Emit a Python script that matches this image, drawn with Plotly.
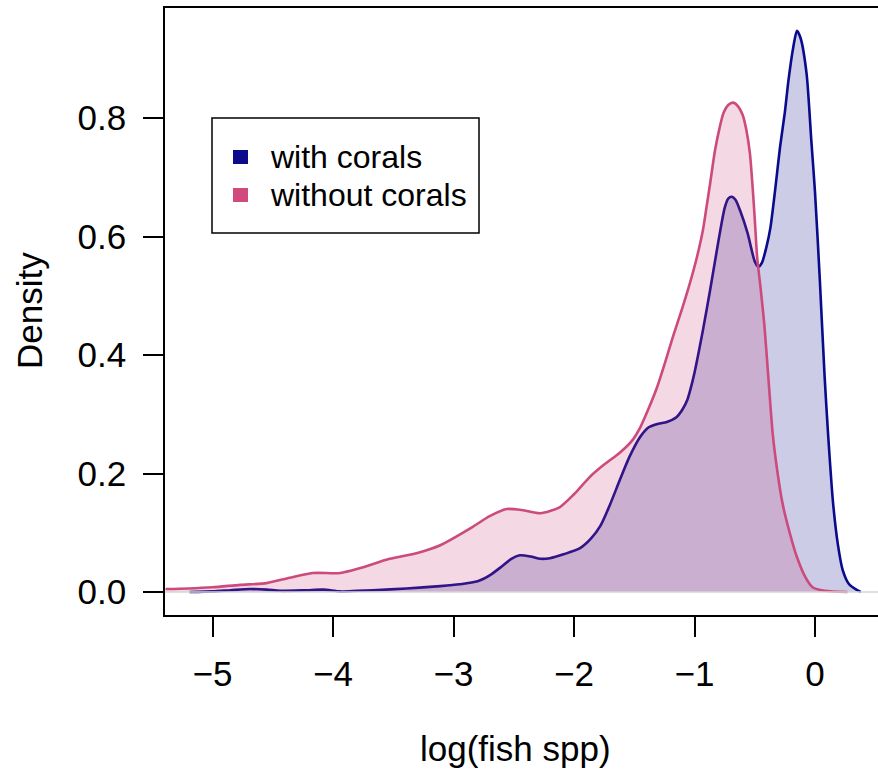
import plotly.graph_objects as go

# ---- data ----
series_names = ["with corals", "without corals"]

with_x = [-5.19, -5.00, -4.85, -4.69, -4.55, -4.44, -4.22, -4.08, -3.94, -3.80, -3.67, -3.39,
          -3.11, -2.95, -2.80, -2.70, -2.60, -2.52, -2.45, -2.36, -2.28, -2.20, -2.08, -1.95,
          -1.86, -1.78, -1.70, -1.62, -1.54, -1.45, -1.38, -1.30, -1.23, -1.15, -1.10, -1.06,
          -1.03, -1.00, -0.96, -0.93, -0.87, -0.80, -0.75, -0.72, -0.69, -0.66, -0.62, -0.56,
          -0.50, -0.47, -0.44, -0.40, -0.37, -0.33, -0.29, -0.25, -0.22, -0.18, -0.15, -0.12,
          -0.07, -0.03, 0.00, 0.04, 0.08, 0.11, 0.15, 0.19, 0.23, 0.28, 0.35, 0.38]
with_y = [0.000, 0.001, 0.003, 0.005, 0.004, 0.002, 0.003, 0.004, 0.001, 0.002, 0.003, 0.006,
          0.010, 0.013, 0.018, 0.028, 0.043, 0.056, 0.062, 0.060, 0.056, 0.057, 0.064, 0.074,
          0.090, 0.112, 0.148, 0.189, 0.228, 0.262, 0.278, 0.284, 0.287, 0.295, 0.308, 0.324,
          0.345, 0.370, 0.410, 0.442, 0.510, 0.594, 0.648, 0.664, 0.667, 0.662, 0.643, 0.606,
          0.558, 0.549, 0.556, 0.585, 0.615, 0.680, 0.751, 0.810, 0.864, 0.920, 0.947, 0.935,
          0.875, 0.760, 0.675, 0.527, 0.363, 0.262, 0.150, 0.080, 0.037, 0.014, 0.003, 0.000]

without_x = [-5.39, -5.20, -5.00, -4.77, -4.55, -4.36, -4.17, -3.94, -3.78, -3.53, -3.30, -3.11,
             -2.84, -2.70, -2.56, -2.42, -2.28, -2.12, -2.00, -1.87, -1.75, -1.62, -1.52, -1.45,
             -1.38, -1.31, -1.24, -1.18, -1.10, -1.04, -0.98, -0.93, -0.90, -0.87, -0.83, -0.79,
             -0.76, -0.72, -0.68, -0.64, -0.60, -0.57, -0.54, -0.52, -0.50, -0.48, -0.45, -0.42,
             -0.39, -0.35, -0.31, -0.27, -0.21, -0.15, -0.08, -0.02, 0.08, 0.27]
without_y = [0.005, 0.006, 0.008, 0.012, 0.015, 0.024, 0.032, 0.032, 0.040, 0.056, 0.066, 0.079,
             0.110, 0.128, 0.140, 0.138, 0.133, 0.143, 0.165, 0.194, 0.215, 0.235, 0.255, 0.278,
             0.310, 0.346, 0.390, 0.430, 0.480, 0.520, 0.565, 0.611, 0.650, 0.690, 0.745, 0.785,
             0.808, 0.822, 0.826, 0.820, 0.805, 0.780, 0.740, 0.690, 0.630, 0.565, 0.510, 0.450,
             0.370, 0.265, 0.200, 0.150, 0.100, 0.059, 0.025, 0.008, 0.002, 0.000]

x_ticks = [-5, -4, -3, -2, -1, 0]
x_tick_labels = ["\u22125", "\u22124", "\u22123", "\u22122", "\u22121", "0"]
y_ticks = [0.0, 0.2, 0.4, 0.6, 0.8]
y_tick_labels = ["0.0", "0.2", "0.4", "0.6", "0.8"]
x_title = "log(fish spp)"
y_title = "Density"

# ---- styles ----
line_colors = ["#0a0a8c", "#cc4a7c"]
fill_colors = ["rgba(0,0,128,0.2)", "rgba(200,60,120,0.2)"]
legend_colors = ["#0b0b8c", "#d04a7e"]
FONT = "Liberation Sans, Arial, Helvetica, sans-serif"

W, H = 878, 774
ML, MT, MB, MR = 165, 8, 159, 0
PW, PH = W - ML - MR, H - MT - MB


def px_x(p):
    return (p - ML) / PW


def px_y(p):
    return (H - MB - p) / PH


fig = go.Figure()
for xs, ys, name, lc, fc in [(with_x, with_y, series_names[0], line_colors[0], fill_colors[0]),
                              (without_x, without_y, series_names[1], line_colors[1], fill_colors[1])]:
    fig.add_trace(go.Scatter(x=xs, y=ys, name=name, mode="lines",
                             line=dict(color=lc, width=2.6, shape="spline", smoothing=0.7),
                             fill="tozeroy", fillcolor=fc, showlegend=False))

shapes = [
    dict(type="line", xref="paper", yref="y", x0=0, x1=1, y0=0, y1=0,
         line=dict(color="#d6d6d6", width=1.5), layer="above"),
    dict(type="rect", xref="paper", yref="paper", x0=px_x(212), x1=px_x(479),
         y0=px_y(233), y1=px_y(118), line=dict(color="black", width=1.5),
         fillcolor="white", layer="above"),
]
annotations = []
legend_rows = [157, 195]
for name, col, yc in zip(series_names, legend_colors, legend_rows):
    shapes.append(dict(type="rect", xref="paper", yref="paper", x0=px_x(233), x1=px_x(248),
                       y0=px_y(yc + 7), y1=px_y(yc - 7), line=dict(width=0),
                       fillcolor=col, layer="above"))
    annotations.append(dict(text=name, xref="paper", yref="paper", x=px_x(268), y=px_y(yc),
                            xanchor="left", yanchor="middle", showarrow=False,
                            font=dict(size=32, color="black", family=FONT)))

annotations.append(dict(text=x_title, xref="paper", yref="paper", x=px_x(515), y=px_y(748),
                        xanchor="center", yanchor="middle", showarrow=False,
                        font=dict(size=35, color="black", family=FONT)))
annotations.append(dict(text=y_title, xref="paper", yref="paper", x=px_x(29), y=px_y(311),
                        xanchor="center", yanchor="middle", showarrow=False, textangle=-90,
                        font=dict(size=35, color="black", family=FONT)))

fig.update_layout(
    width=W, height=H,
    margin=dict(l=ML, r=MR, t=MT, b=MB),
    paper_bgcolor="white", plot_bgcolor="white",
    showlegend=False,
    font=dict(family=FONT, size=35, color="black"),
    shapes=shapes, annotations=annotations,
    xaxis=dict(range=[(ML - 815) / 120.5, (W - 815) / 120.5], tickvals=x_ticks,
               ticktext=x_tick_labels, ticks="outside", ticklen=20, tickwidth=1.5,
               tickcolor="black", showline=True, linecolor="black", linewidth=1.5,
               mirror=True, showgrid=False, zeroline=False,
               tickfont=dict(size=35, family=FONT), ticklabelstandoff=7),
    yaxis=dict(range=[(592 - (H - MB)) / 592.5, (592 - MT) / 592.5], tickvals=y_ticks,
               ticktext=y_tick_labels, ticks="outside", ticklen=20, tickwidth=1.5,
               tickcolor="black", showline=True, linecolor="black", linewidth=1.5,
               mirror=False, showgrid=False, zeroline=False,
               tickfont=dict(size=35, family=FONT), ticklabelstandoff=10),
)

fig.write_html("out.html")
